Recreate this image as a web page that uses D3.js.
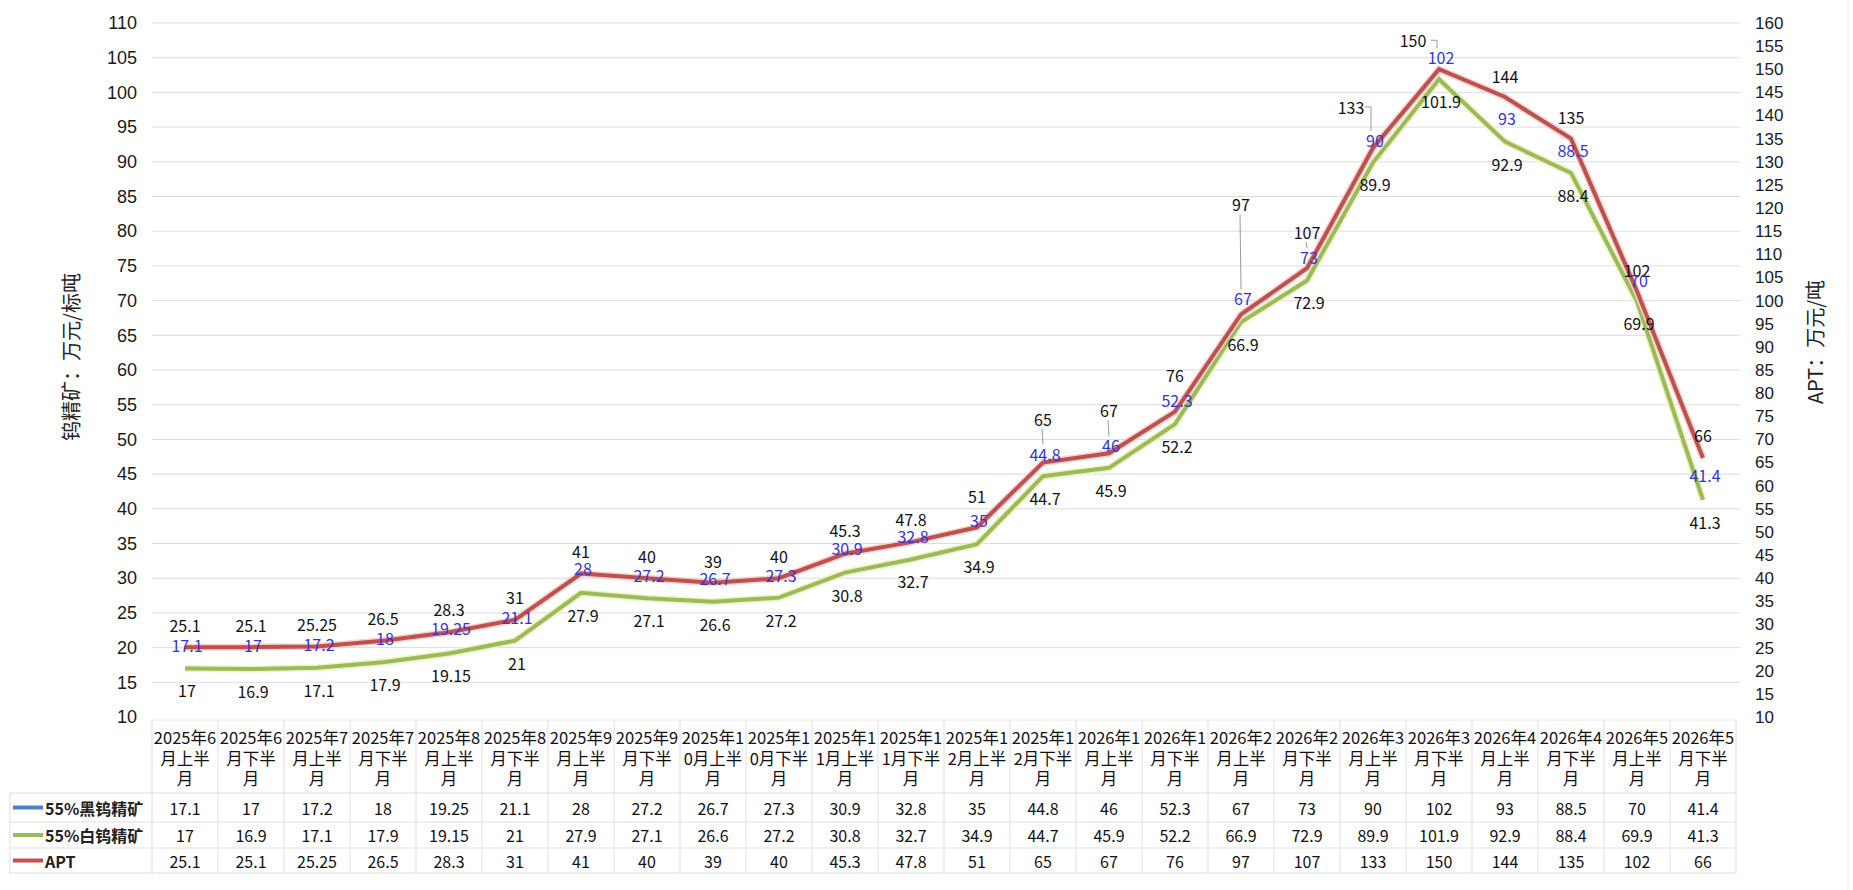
<!DOCTYPE html>
<html>
<head>
<meta charset="utf-8">
<script src="https://cdn.jsdelivr.net/npm/d3@7"></script>
<style>
  body { margin: 0; background: #fff; }
  svg { display: block; font-family: "Noto Sans CJK SC", "Liberation Sans", sans-serif; }
  .grid line { stroke: #dcdcdc; stroke-width: 1; }
  .tick text { fill: #1a1a1a; }
</style>
</head>
<body>
<script>
// Categories (half-month periods)
let categories = ["2025年6月上半月", "2025年6月下半月", "2025年7月上半月", "2025年7月下半月", "2025年8月上半月", "2025年8月下半月",
    "2025年9月上半月", "2025年9月下半月", "2025年10月上半月", "2025年10月下半月", "2025年11月上半月", "2025年11月下半月",
    "2025年12月上半月", "2025年12月下半月", "2026年1月上半月", "2026年1月下半月", "2026年2月上半月", "2026年2月下半月",
    "2026年3月上半月", "2026年3月下半月", "2026年4月上半月", "2026年4月下半月", "2026年5月上半月", "2026年5月下半月"];

// Series values
let blackOre = [17.1, 17, 17.2, 18, 19.25, 21.1, 28, 27.2, 26.7, 27.3, 30.9, 32.8, 35, 44.8, 46, 52.3, 67, 73, 90, 102, 93, 88.5, 70, 41.4];
let whiteOre = [17, 16.9, 17.1, 17.9, 19.15, 21, 27.9, 27.1, 26.6, 27.2, 30.8, 32.7, 34.9, 44.7, 45.9, 52.2, 66.9, 72.9, 89.9, 101.9, 92.9, 88.4, 69.9, 41.3];
let apt = [25.1, 25.1, 25.25, 26.5, 28.3, 31, 41, 40, 39, 40, 45.3, 47.8, 51, 65, 67, 76, 97, 107, 133, 150, 144, 135, 102, 66];

let seriesNames = ["55%黑钨精矿", "55%白钨精矿", "APT"];
let leftTicks = d3.range(10, 111, 5);
let rightTicks = d3.range(10, 161, 5);

// label nudges (pixels, relative to the APT point) as placed in the source chart
let aptLabelDy = [-22, -22, -22, -23, -23, -23, -23, -22, -22, -22, -24, -23, -31, -44, -43, -37, -110, -36, -41, -29, -21, -22, -21, -23];
let blueLabelDy = [-2, -2, -2, -3, -4, -3, -6, -3, -5, -3, -6, -6, -7, -9, -8, -12, -16, -11, -8, -12, 21, 11, -11, 17];
let leaders = new Set([13, 14, 16, 17, 18, 19]);

let colors = { black: "#4f81bd", white: "#9bbb59", apt: "#c0504d", blueLabel: "#3535d0" };

let W = 1853, H = 890;
let plotLeft = 152, plotRight = 1736, plotTop = 23, plotBottom = 717;

let svg = d3.select("body").append("svg")
    .attr("width", W)
    .attr("height", H);

let x = d3.scaleBand().domain(categories).range([plotLeft, plotRight]);
let yL = d3.scaleLinear().domain([10, 110]).range([plotBottom, plotTop]);
let yR = d3.scaleLinear().domain([10, 160]).range([plotBottom, plotTop]);
let cx = i => x(categories[i]) + x.bandwidth() / 2;

// outer frame line on the right
svg.append("line")
    .attr("x1", 1848).attr("x2", 1848).attr("y1", 0).attr("y2", H)
    .attr("stroke", "#ececec");

// Grid
svg.append("g")
    .attr("class", "grid")
    .selectAll("line")
    .data(leftTicks.slice(1))
    .enter()
    .append("line")
    .attr("x1", plotLeft).attr("x2", plotRight + 4)
    .attr("y1", d => yL(d)).attr("y2", d => yL(d));

// Axes
let axisL = svg.append("g")
    .attr("transform", `translate(${plotLeft},0)`)
    .call(d3.axisLeft(yL).tickValues(leftTicks).tickSize(0).tickPadding(15));
axisL.select(".domain").remove();
axisL.selectAll("text").style("font-size", "18px").style("font-family", "'Liberation Sans', sans-serif");

let axisR = svg.append("g")
    .attr("transform", `translate(${plotRight + 4},0)`)
    .call(d3.axisRight(yR).tickValues(rightTicks).tickSize(0).tickPadding(15));
axisR.select(".domain").remove();
axisR.selectAll("text").style("font-size", "17px").style("font-family", "'Liberation Sans', sans-serif");

// Axis titles
svg.append("text")
    .attr("transform", "translate(70,357) rotate(-90)")
    .attr("text-anchor", "middle")
    .attr("dominant-baseline", "central")
    .style("font-size", "20px")
    .attr("fill", "#222")
    .text("钨精矿：万元/标吨");

svg.append("text")
    .attr("transform", "translate(1814,342) rotate(-90)")
    .attr("text-anchor", "middle")
    .attr("dominant-baseline", "central")
    .style("font-size", "20px")
    .attr("fill", "#222")
    .text("APT：万元/吨");

// Lines
let lineL = d3.line().x((d, i) => cx(i)).y(d => yL(d));
let lineR = d3.line().x((d, i) => cx(i)).y(d => yR(d));

let lines = svg.append("g").attr("fill", "none").attr("stroke-linejoin", "miter");
lines.append("path").attr("d", lineL(blackOre)).attr("stroke", colors.black).attr("stroke-width", 4);
lines.append("path").attr("d", lineL(whiteOre)).attr("stroke", "#eef3c4").attr("stroke-width", 7);
lines.append("path").attr("d", lineL(whiteOre)).attr("stroke", colors.white).attr("stroke-width", 4);
lines.append("path").attr("d", lineR(apt)).attr("stroke", "#f3d3d2").attr("stroke-width", 7);
lines.append("path").attr("d", lineR(apt)).attr("stroke", colors.apt).attr("stroke-width", 4);

// Leader lines
let leaderG = svg.append("g").attr("stroke", "#9a9a9a").attr("stroke-width", 1).attr("fill", "none");
apt.forEach((v, i) => {
    if (!leaders.has(i)) return;
    let px = cx(i);
    let ly = yR(v) + aptLabelDy[i];
    let by = yR(v) + blueLabelDy[i];
    if (i == 18 || i == 19) {
        leaderG.append("path").attr("d", d3.line()([[px - 8, ly], [px - 2, ly], [px - 2, by - 9]]));
    } else {
        leaderG.append("path").attr("d", d3.line()([[px - 1, ly + 10], [px, by - 9]]));
    }
});

// Data labels
let labels = svg.append("g")
    .style("font-size", "16px")
    .attr("text-anchor", "middle")
    .attr("dominant-baseline", "central");

labels.selectAll(".apt-label")
    .data(apt)
    .enter()
    .append("text")
    .attr("class", "apt-label")
    .attr("x", (d, i) => cx(i) - (i == 18 ? 22 : i == 19 ? 26 : 0))
    .attr("y", (d, i) => yR(d) + aptLabelDy[i])
    .attr("fill", "#111")
    .text(d => d);

labels.selectAll(".black-label")
    .data(blackOre)
    .enter()
    .append("text")
    .attr("class", "black-label")
    .attr("x", (d, i) => cx(i) + 2)
    .attr("y", (d, i) => yR(apt[i]) + blueLabelDy[i])
    .attr("fill", colors.blueLabel)
    .text(d => d);

labels.selectAll(".white-label")
    .data(whiteOre)
    .enter()
    .append("text")
    .attr("class", "white-label")
    .attr("x", (d, i) => cx(i) + 2)
    .attr("y", d => yL(d) + 22)
    .attr("fill", "#111")
    .text(d => d);

// Data table
let rowTop = 793, rowH = [29, 26, 25];
let rowY = [rowTop, rowTop + rowH[0], rowTop + rowH[0] + rowH[1], rowTop + rowH[0] + rowH[1] + rowH[2]];
let table = svg.append("g").attr("stroke", "#dedede").attr("stroke-width", 1);

table.append("line").attr("x1", plotLeft).attr("x2", plotRight).attr("y1", 720).attr("y2", 720).attr("stroke-dasharray", "2,1");
rowY.forEach(y => table.append("line").attr("x1", 10).attr("x2", plotRight).attr("y1", y).attr("y2", y));
table.append("line").attr("x1", 10).attr("x2", 10).attr("y1", rowY[0]).attr("y2", rowY[3]);
categories.concat(["end"]).forEach((c, i) => {
    let xx = plotLeft + i * x.bandwidth();
    table.append("line").attr("x1", xx).attr("x2", xx).attr("y1", 720).attr("y2", rowY[3]);
});

// Category headers, wrapped to the column width
let header = svg.append("g")
    .style("font-size", "16.5px")
    .attr("text-anchor", "middle")
    .attr("fill", "#111");

categories.forEach((c, i) => {
    let t = header.append("text").attr("x", cx(i)).attr("y", 737).attr("dominant-baseline", "central");
    let parts = [], cur = "";
    for (let ch of c) {
        t.text(cur + ch);
        if (t.node().getComputedTextLength() > x.bandwidth() - 2 && cur) {
            parts.push(cur);
            cur = ch;
        } else cur += ch;
    }
    parts.push(cur);
    t.text(null);
    parts.forEach((l, k) => t.append("tspan").attr("x", cx(i)).attr("y", 737 + k * 20.5).text(l));
});

// Table values
let tableData = [blackOre, whiteOre, apt];
let lineColors = [colors.black, colors.white, colors.apt];
let cells = svg.append("g")
    .style("font-size", "16px")
    .attr("text-anchor", "middle")
    .attr("dominant-baseline", "central")
    .attr("fill", "#111");

tableData.forEach((row, r) => {
    let yy = (rowY[r] + rowY[r + 1]) / 2;
    row.forEach((v, i) => cells.append("text").attr("x", cx(i)).attr("y", yy).text(v));
    svg.append("line")
        .attr("x1", 13).attr("x2", 43).attr("y1", yy).attr("y2", yy)
        .attr("stroke", lineColors[r]).attr("stroke-width", 4);
    svg.append("text")
        .attr("x", 45).attr("y", yy)
        .attr("dominant-baseline", "central")
        .style("font-size", "16px")
        .style("font-weight", "bold")
        .attr("fill", "#222")
        .text(seriesNames[r]);
});
</script>
</body>
</html>
